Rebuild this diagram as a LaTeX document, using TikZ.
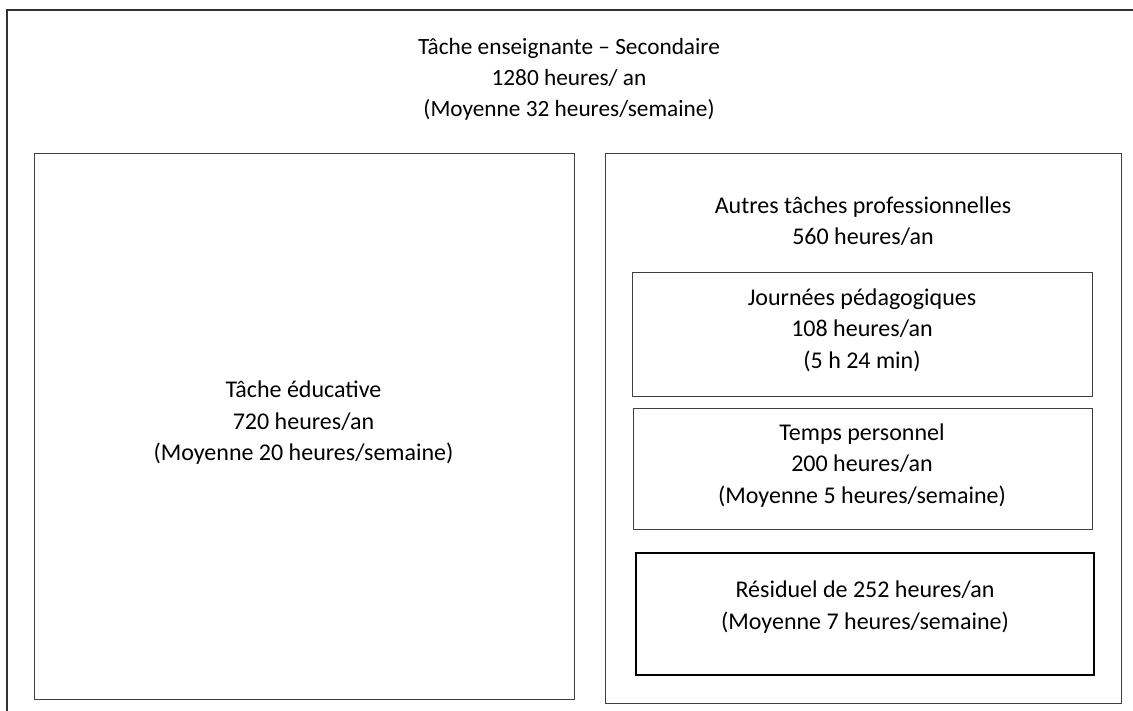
\documentclass[tikz,border=0pt]{standalone}
\usepackage{fontspec}
\setmainfont{Carlito}
\begin{document}
\begin{tikzpicture}[x=1pt,y=-1pt,
  box/.style={draw=black!75, line width=1pt},
  thickbox/.style={draw=black, line width=2.6pt},
  outerbox/.style={draw=black!80, line width=1.4pt},
  lbl/.style={align=center, inner sep=0pt, font=\fontsize{24}{31.5}\selectfont, text=black},
  titlelbl/.style={lbl, font=\fontsize{23.3}{31}\selectfont}]
\useasboundingbox (0,0) rectangle (1133,710);
\clip (0,0) rectangle (1133,710);
\fill[white] (0,0) rectangle (1133,710);
% outer frame (continues past the right and bottom edges)
\draw[outerbox] (7,10) rectangle (1150,730);
\node[titlelbl] (title) at (569,79) {Tâche enseignante – Secondaire\\1280 heures/ an\\(Moyenne 32 heures/semaine)};
% left box
\draw[box] (34,153) rectangle (574,699);
\node[lbl] (educ) at (303.5,423) {Tâche éducative\\720 heures/an\\(Moyenne 20 heures/semaine)};
% right box
\draw[box] (605,153) rectangle (1121,703);
\node[lbl] (autres) at (863,221) {Autres tâches professionnelles\\560 heures/an};
% Journees
\draw[box] (632,272) rectangle (1092,396);
\node[lbl] (journees) at (862,330) {Journées pédagogiques\\108 heures/an\\(5 h 24 min)};
% Temps
\draw[box] (633,408) rectangle (1092,529);
\node[lbl] (temps) at (862,465.5) {Temps personnel\\200 heures/an\\(Moyenne 5 heures/semaine)};
% Residuel
\draw[thickbox] (636,553) rectangle (1094,675);
\node[lbl] (residuel) at (865,607) {Résiduel de 252 heures/an\\(Moyenne 7 heures/semaine)};
\end{tikzpicture}
\end{document}
